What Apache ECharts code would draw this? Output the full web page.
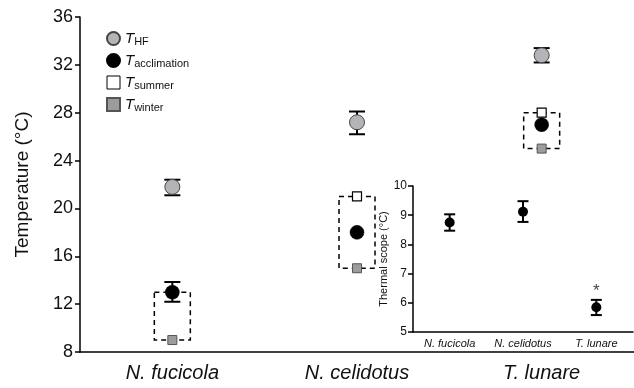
<!DOCTYPE html>
<html><head><meta charset="utf-8">
<script src="https://cdn.jsdelivr.net/npm/echarts@6/dist/echarts.min.js"></script>
<style>html,body{margin:0;padding:0;background:#fff}#c{width:634px;height:388px}</style>
</head><body><div id="c"></div><script>
const species = ['N. fucicola', 'N. celidotus', 'T. lunare'];
const tHF = [21.8, 27.2, 32.8];
const tHFLow = [21.1, 26.2, 32.2];
const tHFHigh = [22.4, 28.1, 33.4];
const tAccl = [13.0, 18.0, 27.0];
const tAcclLow = [12.2, null, null];
const tAcclHigh = [13.85, null, null];
const tSummer = [13.0, 21.0, 28.0];
const tWinter = [9.0, 15.0, 25.0];
const scope = [8.75, 9.12, 5.85];
const scopeLow = [8.47, 8.77, 5.58];
const scopeHigh = [9.03, 9.48, 6.1];
const sigY = [null, null, 6.38];
const sigText = ['', '', '*'];
const legendSub = {THF: 'HF', Tacclimation: 'acclimation', Tsummer: 'summer', Twinter: 'winter'};

function errRender(capW) {
  return function (params, api) {
    const x = api.value(0), lo = api.value(1), hi = api.value(2);
    const p1 = api.coord([x, lo]), p2 = api.coord([x, hi]);
    const s = {stroke: '#000', lineWidth: 2};
    return {type: 'group', children: [
      {type: 'line', shape: {x1: p1[0], y1: p1[1], x2: p2[0], y2: p2[1]}, style: s},
      {type: 'line', shape: {x1: p1[0] - capW / 2, y1: p1[1], x2: p1[0] + capW / 2, y2: p1[1]}, style: s},
      {type: 'line', shape: {x1: p2[0] - capW / 2, y1: p2[1], x2: p2[0] + capW / 2, y2: p2[1]}, style: s}
    ]};
  };
}
function boxRender(params, api) {
  const x = api.value(0);
  const a = api.coord([x, api.value(1)]), b = api.coord([x, api.value(2)]);
  const hw = 18;
  return {type: 'rect', shape: {x: a[0] - hw, y: a[1], width: hw * 2, height: b[1] - a[1]},
    style: {fill: 'none', stroke: '#000', lineWidth: 1.5, lineDash: [5, 4]}};
}
const idx = species.map((_, i) => i);
const errData = (lo, hi) => idx.filter(i => lo[i] != null).map(i => [i, lo[i], hi[i]]);

const chart = echarts.init(document.getElementById('c'));
chart.setOption({
  animation: false,
  textStyle: {fontFamily: 'Liberation Sans, Arial, sans-serif'},
  legend: {
    orient: 'vertical', left: 101, top: 26, itemWidth: 13, itemHeight: 13, itemGap: 5.5,
    data: [
      {name: 'THF'},
      {name: 'Tacclimation'},
      {name: 'Tsummer', itemStyle: {borderWidth: 1}},
      {name: 'Twinter'}
    ],
    formatter: n => '{i|T}{s|' + legendSub[n] + '}',
    textStyle: {
      rich: {
        i: {fontStyle: 'italic', fontSize: 15, color: '#111', fontFamily: 'Liberation Sans'},
        s: {fontSize: 11, color: '#111', padding: [7, 0, 0, 0], fontFamily: 'Liberation Sans'}
      }
    }
  },
  grid: [
    {left: 80, right: -2, top: 17, bottom: 36},
    {left: 413, right: 1, top: 186, bottom: 56}
  ],
  xAxis: [
    {type: 'category', gridIndex: 0, data: species,
     axisLine: {lineStyle: {color: '#000', width: 1.5}},
     axisTick: {alignWithLabel: true, length: 6, lineStyle: {color: '#000', width: 1.5}},
     axisLabel: {fontSize: 20, fontStyle: 'italic', color: '#111', margin: 11, interval: 0}},
    {type: 'category', gridIndex: 1, data: species,
     axisLine: {lineStyle: {color: '#000', width: 1.5}},
     axisTick: {alignWithLabel: true, length: 5, lineStyle: {color: '#000', width: 1.5}},
     axisLabel: {fontSize: 11, fontStyle: 'italic', color: '#111', margin: 6, interval: 0}}
  ],
  yAxis: [
    {type: 'value', gridIndex: 0, min: 8, max: 36, interval: 4,
     name: 'Temperature (°C)', nameLocation: 'middle', nameGap: 48,
     nameTextStyle: {fontSize: 19, color: '#111'},
     axisLine: {show: true, lineStyle: {color: '#000', width: 1.5}},
     axisTick: {show: true, length: 5, lineStyle: {color: '#000', width: 1.5}},
     splitLine: {show: false},
     axisLabel: {fontSize: 18, color: '#111', margin: 7}},
    {type: 'value', gridIndex: 1, min: 5, max: 10, interval: 1,
     name: 'Thermal scope (°C)', nameLocation: 'middle', nameGap: 22,
     nameTextStyle: {fontSize: 11, color: '#111'},
     axisLine: {show: true, lineStyle: {color: '#000', width: 1.5}},
     axisTick: {show: true, length: 5, lineStyle: {color: '#000', width: 1.5}},
     splitLine: {show: false},
     axisLabel: {fontSize: 12, color: '#111', margin: 6}}
  ],
  series: [
    {type: 'custom', name: 'box', xAxisIndex: 0, yAxisIndex: 0, z: 1,
     renderItem: boxRender, encode: {x: 0, y: [1, 2]},
     data: idx.map(i => [i, tSummer[i], tWinter[i]])},
    {type: 'custom', name: 'hfErr', xAxisIndex: 0, yAxisIndex: 0, z: 2,
     renderItem: errRender(16), encode: {x: 0, y: [1, 2]}, data: errData(tHFLow, tHFHigh)},
    {type: 'custom', name: 'acErr', xAxisIndex: 0, yAxisIndex: 0, z: 2,
     renderItem: errRender(16), encode: {x: 0, y: [1, 2]}, data: errData(tAcclLow, tAcclHigh)},
    {type: 'scatter', name: 'Tsummer', xAxisIndex: 0, yAxisIndex: 0, z: 3, symbol: 'rect', symbolSize: 9,
     itemStyle: {color: '#fff', borderColor: '#000', borderWidth: 1.2, opacity: 1},
     data: tSummer},
    {type: 'scatter', name: 'Twinter', xAxisIndex: 0, yAxisIndex: 0, z: 3, symbol: 'rect', symbolSize: 9,
     itemStyle: {color: '#9c9c9e', borderColor: '#555', borderWidth: 1, opacity: 1},
     data: tWinter},
    {type: 'scatter', name: 'THF', xAxisIndex: 0, yAxisIndex: 0, z: 4, symbol: 'circle', symbolSize: 15,
     itemStyle: {color: '#b4b4b8', borderColor: '#444', borderWidth: 1, opacity: 1},
     data: tHF},
    {type: 'scatter', name: 'Tacclimation', xAxisIndex: 0, yAxisIndex: 0, z: 4, symbol: 'circle', symbolSize: 14,
     itemStyle: {color: '#000', borderColor: '#000', borderWidth: 0.5, opacity: 1},
     data: tAccl},
    {type: 'custom', name: 'scopeErr', xAxisIndex: 1, yAxisIndex: 1, z: 2,
     renderItem: errRender(11), encode: {x: 0, y: [1, 2]}, data: errData(scopeLow, scopeHigh)},
    {type: 'scatter', name: 'scope', xAxisIndex: 1, yAxisIndex: 1, z: 4, symbol: 'circle', symbolSize: 10,
     itemStyle: {color: '#000', opacity: 1}, data: scope},
    {type: 'scatter', name: 'sig', xAxisIndex: 1, yAxisIndex: 1, z: 4, symbolSize: 0,
     label: {show: true, position: 'inside', fontSize: 17, color: '#111', formatter: p => sigText[p.dataIndex]},
     data: sigY}
  ]
});
</script></body></html>
